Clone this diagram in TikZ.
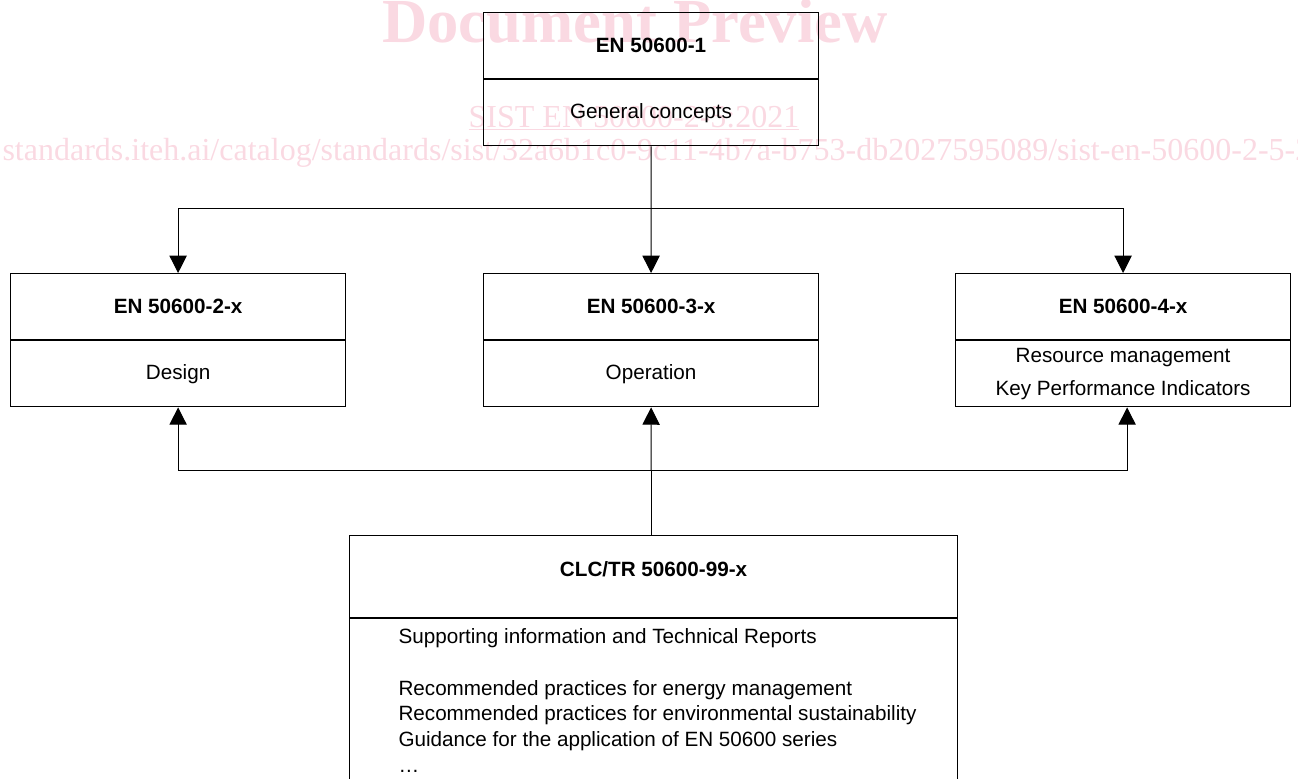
\documentclass[tikz,border=0pt]{standalone}
\usepackage{fontspec}
\setmainfont{Liberation Sans}
\newfontfamily\markfont{Liberation Serif}
\usepackage{tikz}
\usetikzlibrary{arrows.meta}
\definecolor{markpink}{RGB}{250,217,226}
\newlength\pxu
\setlength\pxu{0.75pt}

\begin{document}
\begin{tikzpicture}[x=0.75pt, y=-0.75pt, line width=0.75pt]
        \tikzstyle{title}=[draw=black,rectangle,anchor=north west,inner sep=0pt,minimum width=335\pxu,minimum height=66\pxu,line width=0.9pt,font=\fontsize{15.5}{19}\selectfont\bfseries]
        \tikzstyle{body}=[draw=black,rectangle,anchor=north,inner sep=0pt,minimum width=335\pxu,minimum height=66\pxu,line width=0.9pt,align=center,font=\fontsize{15.5}{25}\selectfont]
        \tikzstyle{note}=[anchor=base west,inner sep=0pt,font=\fontsize{15.5}{19}\selectfont]
        \tikzstyle{stamp}=[text=markpink,inner sep=0pt]
        \tikzstyle{tip}=[-{Triangle[length=13pt,width=13pt]}]

        \useasboundingbox (0,0) rectangle (1298,778);

        % Draw the preview stamp behind the chart
        \node[stamp, anchor=base, font=\markfont\fontsize{47}{47}\selectfont\bfseries] (mark-1) at (635,42) {Document Preview};
        \node[stamp, anchor=base, font=\markfont\fontsize{24}{24}\selectfont] (mark-2) at (634,127) {\underline{SIST EN 50600-2-5:2021}};
        \node[stamp, anchor=base west, font=\markfont\fontsize{24}{24}\selectfont] (mark-3) at (2,160)
            {standards.iteh.ai/catalog/standards/sist/32a6b1c0-9c11-4b7a-b753-db2027595089/sist-en-50600-2-5-2021};

        % Draw the general part
        \node[title] (G-head) at (483,12) {EN 50600-1};
        \node[body] (G-body) at (G-head.south) {General concepts};

        % Draw the three middle parts
        \foreach \name / \x / \code / \what in {1/10/2/Design, 2/483/3/Operation, 3/955/4/{Resource management\\Key Performance Indicators}} {
            \node[title] (H-\name) at (\x,273) {EN 50600-\code-x};
            \node[body] (D-\name) at (H-\name.south) {\what};
        }

        % Draw the technical report box
        \node[title, minimum width=608\pxu, minimum height=82\pxu, text depth=16\pxu] (C-head) at (349,535) {CLC/TR 50600-99-x};
        \node[body, minimum width=608\pxu, minimum height=173\pxu] (C-body) at (C-head.south) {};
        \foreach \name / \y / \line in {1/643/Supporting information and Technical Reports,
                2/695/Recommended practices for energy management,
                3/720/Recommended practices for environmental sustainability,
                4/746/Guidance for the application of EN 50600 series,
                5/772/\dots}
            \node[note] (L-\name) at (398,\y) {\line};

        % Connect the general part with every middle part
        \coordinate (fork) at (651,208);
        \draw (G-body.south) -- (fork);
        \draw[tip] (fork) -| (H-1.north);
        \draw[tip] (fork) -- (H-2.north);
        \draw[tip] (fork) -| (H-3.north);

        % Connect the technical reports with every middle part
        \coordinate (join) at (651,470);
        \draw (C-head.north -| join) -- (join);
        \draw[tip] (join) -| (D-1.south);
        \draw[tip] (join) -- (D-2.south);
        \draw[tip] (join) -| ([xshift=4\pxu]D-3.south);
\end{tikzpicture}
\end{document}
